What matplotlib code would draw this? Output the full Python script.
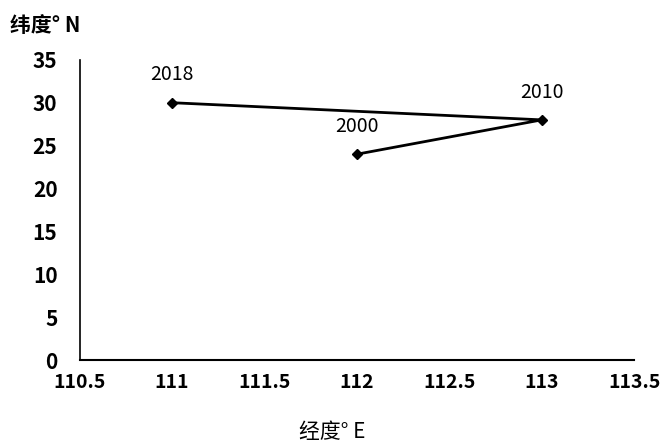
import matplotlib.pyplot as plt

plt.rcParams['font.family'] = ['Noto Sans CJK SC', 'DejaVu Sans']

years = ['2000', '2010', '2018']
lon = [112, 113, 111]
lat = [24, 28, 30]

xticks = [110.5, 111, 111.5, 112, 112.5, 113, 113.5]
xticklabels = ['110.5', '111', '111.5', '112', '112.5', '113', '113.5']
yticks = [0, 5, 10, 15, 20, 25, 30, 35]

fig = plt.figure(figsize=(6.64, 4.43), dpi=100)
ax = fig.add_axes([0.12, 0.187, 0.835, 0.678])

ax.plot(lon, lat, color='black', linewidth=2, marker='D', markersize=5)

# year labels centred above each point
for yr, x, y in zip(years, lon, lat):
    ax.annotate(yr, (x, y), xytext=(0, 20), textcoords='offset points',
                fontsize=14, color='black', ha='center', va='center')

ax.set_xlim(110.5, 113.5)
ax.set_ylim(0, 35)
ax.set_xticks(xticks)
ax.set_xticklabels(xticklabels, fontsize=14, fontweight='bold')
ax.set_yticks(yticks)
ax.set_yticklabels([str(v) for v in yticks], fontsize=15, fontweight='bold')
ax.tick_params(length=0, pad=9)
ax.tick_params(axis='y', pad=16)

ax.spines['top'].set_visible(False)
ax.spines['right'].set_visible(False)
ax.spines['left'].set_linewidth(1.2)
ax.spines['bottom'].set_linewidth(1.5)

fig.text(0.015, 0.943, '纬度° N', fontsize=15, fontweight='bold', va='center')
fig.text(0.5, 0.025, '经度° E', fontsize=15, ha='center', va='center')

fig.savefig('out.png', dpi=100)
